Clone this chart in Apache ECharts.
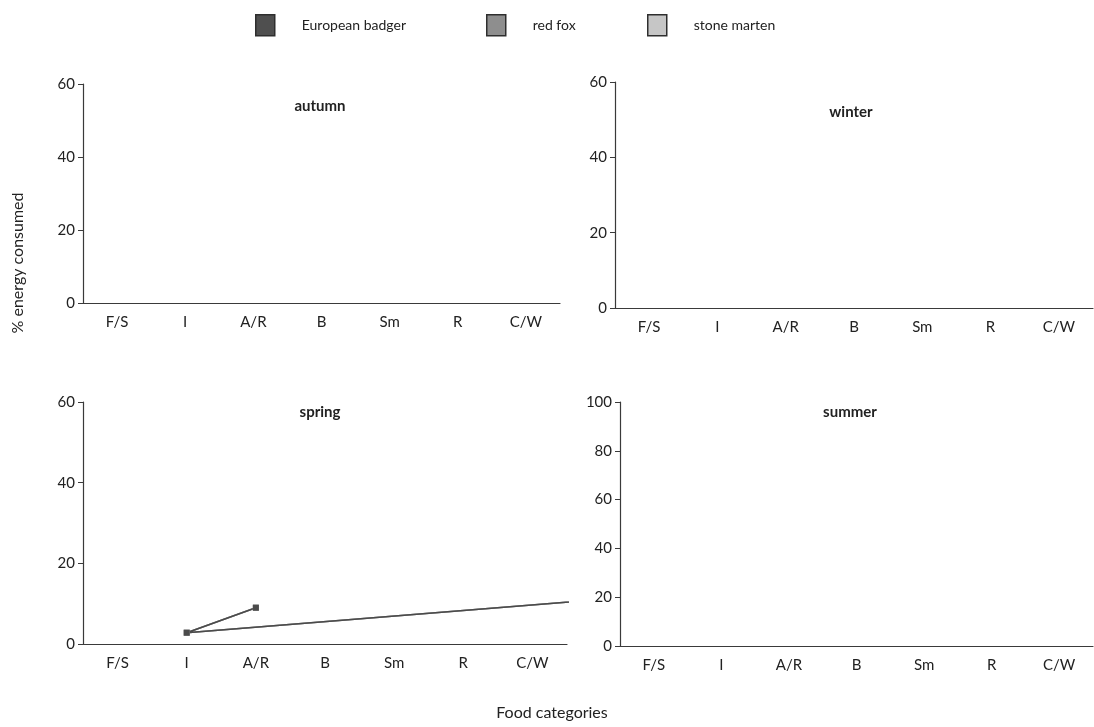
<!DOCTYPE html>
<html>
<head>
<meta charset="utf-8">
<script src="https://cdn.jsdelivr.net/npm/echarts@6/dist/echarts.min.js"></script>
<style>
  html, body { margin: 0; padding: 0; background: #fff; }
  #chart { width: 1094px; height: 727px; }
  #log { position:absolute; left:100px; top:120px; color:red; font-size:11px; white-space:pre-wrap; width:900px; }
</style>
</head>
<body>
<div id="chart"></div>
<div id="log"></div>
<script>
const logEl = document.getElementById('log');
function log(m) { logEl.textContent += m + '\n'; }
window.addEventListener('error', e => log('ERR ' + e.message + ' ' + (e.error && e.error.stack)));
console.error = function () { log('console.error ' + Array.from(arguments).join(' ')); };

// Food categories on the x axis
const categories = ['F/S', 'I', 'A/R', 'B', 'Sm', 'R', 'C/W'];
const speciesNames = ['European badger', 'red fox', 'stone marten'];
const seasons = ['autumn', 'winter', 'spring', 'summer'];

// % energy consumed, per season and species
const autumnBadger = [42.3, 30.3, 0.6, 1.1, 3.2, 0.9, 21.5];
const autumnFox    = [22.0, 3.5, 1.5, 7.1, 29.8, 10.2, 25.6];
const autumnMarten = [20.7, 3.9, 3.5, 17.4, 37.1, 2.1, 15.4];
const autumnBadgerErr = [10, 10, 10, 10, 10, 10, 10];
const autumnFoxErr    = [10, 10, 10, 10, 10, 10, 10];
const autumnMartenErr = [10, 10, 10, 10, 10, 10, 10];

const winterBadger = [23.2, 34.2, 0.9, 2.7, 2.7, 1.8, 34.6];
const winterFox    = [7.5, 0.6, 0.6, 6.4, 25.4, 19.6, 40.0];
const winterMarten = [9.3, 1.1, 1.1, 30.3, 38.1, 6.4, 13.7];
const winterBadgerErr = [7, 7, 7, 7, 7, 7, 7];
const winterFoxErr    = [7, 7, 7, 7, 7, 7, 7];
const winterMartenErr = [7, 7, 7, 7, 7, 7, 7];

const springBadger = [28.4, 40.0, 1.4, 4.6, 3.6, 5.6, 16.7];
const springFox    = [1.4, 2.8, 1.2, 7.6, 23.7, 17.1, 46.5];
const springMarten = [2.4, 9.0, 7.8, 24.1, 40.4, 4.5, 12.3];
const springBadgerErr = [7.5, 7.5, 7.5, 7.5, 7.5, 7.5, 7.5];
const springFoxErr    = [7.5, 7.5, 7.5, 7.5, 7.5, 7.5, 7.5];
const springMartenErr = [7.5, 7.5, 7.5, 7.5, 7.5, 7.5, 7.5];

const summerBadger = [84.3, 7.8, 0.5, 1.0, 1.0, 1.0, 4.8];
const summerFox    = [39.5, 5.1, 3.0, 4.6, 21.7, 11.2, 15.7];
const summerMarten = [36.1, 8.5, 11.1, 7.7, 26.6, 3.4, 6.8];
const summerBadgerErr = [3.8, 3.8, 3.8, 3.8, 3.8, 3.8, 3.8];
const summerFoxErr    = [3.8, 3.8, 3.8, 3.8, 3.8, 3.8, 3.8];
const summerMartenErr = [3.8, 3.8, 3.8, 3.8, 3.8, 3.8, 3.8];

// Y axis ranges per panel
const yMax = [60, 60, 60, 100];
const yStep = [20, 20, 20, 20];

const panelValues = [
  [autumnBadger, autumnFox, autumnMarten],
  [winterBadger, winterFox, winterMarten],
  [springBadger, springFox, springMarten],
  [summerBadger, summerFox, summerMarten]
];
const panelErrors = [
  [autumnBadgerErr, autumnFoxErr, autumnMartenErr],
  [winterBadgerErr, winterFoxErr, winterMartenErr],
  [springBadgerErr, springFoxErr, springMartenErr],
  [summerBadgerErr, summerFoxErr, summerMartenErr]
];

// Styling
const lineColors = ['#4b4b4b', '#8a8a8a', '#c2c2c2'];
const legendFills = ['#4f4f4f', '#8e8e8e', '#c6c6c6'];
const FONT = 'Lato, "Open Sans", sans-serif';
const axisColor = '#3a3a3a';

const grids = [
  { left: 83,  top: 84,  width: 477, height: 219 },
  { left: 615, top: 82,  width: 478, height: 226 },
  { left: 83,  top: 402, width: 484, height: 242 },
  { left: 620, top: 402, width: 473, height: 244 }
];
const titlePos = [
  { left: 315, top: 94 },
  { left: 846, top: 100 },
  { left: 315, top: 400 },
  { left: 845, top: 400 }
];

const xAxes = grids.map((g, i) => ({
  type: 'category',
  gridIndex: i,
  data: categories,
  axisLine: { lineStyle: { color: axisColor, width: 1.2 } },
  axisTick: { alignWithLabel: true, length: 5, lineStyle: { color: axisColor } },
  axisLabel: { color: '#222', fontSize: 15, fontFamily: FONT, margin: 12 }
}));

const yAxes = grids.map((g, i) => ({
  type: 'value',
  gridIndex: i,
  min: 0,
  max: yMax[i],
  interval: yStep[i],
  axisLine: { show: true, lineStyle: { color: axisColor, width: 1.2 } },
  axisTick: { show: true, length: 5, lineStyle: { color: axisColor } },
  axisLabel: { color: '#222', fontSize: 15, fontFamily: FONT, margin: 8 },
  splitLine: { show: false }
}));

// Vertical error bar with caps, drawn through the axis scales
function errorBarRenderer(color) {
  return function (params, api) {
    const x = api.value(0);
    const v = api.value(1);
    const e = api.value(2);
    const hi = api.coord([x, v + e]);
    const lo = api.coord([x, Math.max(0, v - e)]);
    const half = 4;
    const children = [
      { type: 'line', shape: { x1: hi[0], y1: hi[1], x2: lo[0], y2: lo[1] }, style: { stroke: color, lineWidth: 1.3 } },
      { type: 'line', shape: { x1: hi[0] - half, y1: hi[1], x2: hi[0] + half, y2: hi[1] }, style: { stroke: color, lineWidth: 1.3 } }
    ];
    if (v - e > 0) {
      children.push({ type: 'line', shape: { x1: lo[0] - half, y1: lo[1], x2: lo[0] + half, y2: lo[1] }, style: { stroke: color, lineWidth: 1.3 } });
    }
    return { type: 'group', children: children };
  };
}

const series = [];
// lines: marten first, badger last so the darkest line sits on top
[2, 1, 0].forEach(s => {
  panelValues.forEach((vals, p) => {
    series.push({
      name: speciesNames[s],
      type: 'line',
      xAxisIndex: p,
      yAxisIndex: p,
      data: vals,
      symbol: 'rect',
      symbolSize: 6,
      lineStyle: { color: lineColors[s], width: 1.6 },
      itemStyle: { color: lineColors[s] }
    });
  });
});
// error bars
[2, 1, 0].forEach(s => {
  panelValues.forEach((vals, p) => {
    series.push({
      name: speciesNames[s],
      type: 'custom',
      xAxisIndex: p,
      yAxisIndex: p,
      renderItem: errorBarRenderer(lineColors[s]),
      encode: { x: 0, y: 1 },
      data: vals.map((v, i) => [i, v, panelErrors[p][s][i]])
    });
  });
});

const legendLefts = [250, 481, 642];
const legends = speciesNames.map((n, i) => ({
  left: legendLefts[i],
  top: 9,
  icon: 'rect',
  itemWidth: 19,
  itemHeight: 21,
  selectedMode: false,
  data: [{ name: n, itemStyle: { color: legendFills[i], borderColor: '#2e2e2e', borderWidth: 1.5 } }],
  textStyle: { color: '#222', fontSize: 14, fontFamily: FONT, padding: [0, 0, 0, 22] }
}));

const titles = seasons.map((s, i) => ({
  text: s,
  left: titlePos[i].left,
  top: titlePos[i].top,
  textAlign: 'center',
  textStyle: { fontSize: 15, fontWeight: 'bold', color: '#222', fontFamily: FONT }
}));
titles.push({
  text: 'Food categories',
  left: 547,
  top: 700,
  textAlign: 'center',
  textStyle: { fontSize: 16, fontWeight: 'normal', color: '#222', fontFamily: FONT }
});

const chart = echarts.init(document.getElementById('chart'));
try {
chart.setOption({
  animation: false,
  title: titles,
  legend: legends,
  grid: grids,
  xAxis: xAxes,
  yAxis: yAxes,
  series: series,
  graphic: [{
    type: 'text',
    x: 18,
    y: 263,
    rotation: Math.PI / 2,
    style: {
      text: '% energy consumed',
      fontSize: 16,
      fontFamily: FONT,
      fill: '#222',
      textAlign: 'center',
      textVerticalAlign: 'middle'
    }
  }]
});
} catch (e) { log('catch ' + e.stack); }
</script>
</body>
</html>
